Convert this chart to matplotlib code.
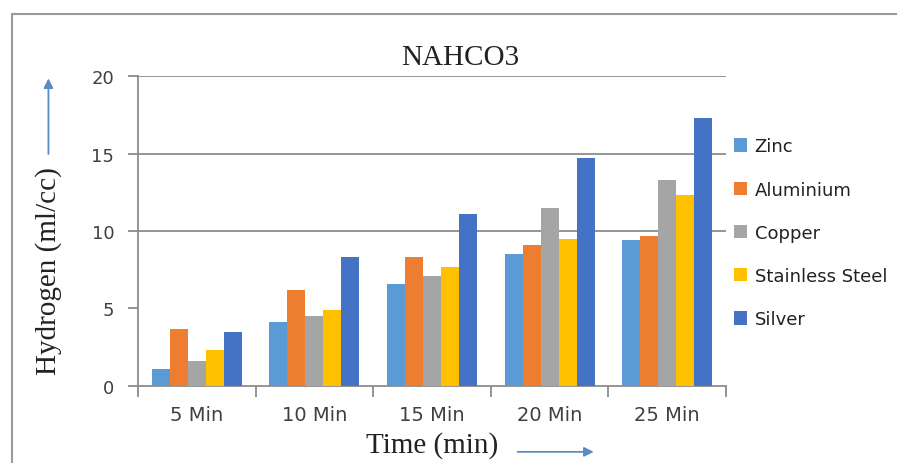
import matplotlib.pyplot as plt
import matplotlib.patches as mpatches
import numpy as np

times = ['5 Min', '10 Min', '15 Min', '20 Min', '25 Min']
zinc = [1.1, 4.1, 6.6, 8.5, 9.4]
aluminium = [3.7, 6.2, 8.3, 9.1, 9.7]
copper = [1.6, 4.5, 7.1, 11.5, 13.3]
stainless = [2.3, 4.9, 7.7, 9.5, 12.3]
silver = [3.5, 8.3, 11.1, 14.7, 17.3]

series = [('Zinc', zinc, '#5B9BD5'),
          ('Aluminium', aluminium, '#ED7D31'),
          ('Copper', copper, '#A5A5A5'),
          ('Stainless Steel', stainless, '#FFC000'),
          ('Silver', silver, '#4472C4')]

serif = 'Liberation Serif'
sans = 'DejaVu Sans'

fig = plt.figure(figsize=(8.97, 4.64), dpi=100)
ax = fig.add_axes([0.1538, 0.166, 0.6556, 0.668])

x = np.arange(len(times))
w = 0.153
for i, (name, vals, col) in enumerate(series):
    ax.bar(x + (i - 2) * w, vals, w, color=col, label=name, zorder=3)

ax.set_xlim(-0.5, len(times) - 0.5)
ax.set_ylim(0, 20)
ax.set_yticks([0, 5, 10, 15, 20])
ax.set_xticks(x)
ax.set_xticklabels(times)
ax.set_xticks(np.arange(-0.5, len(times)), minor=True)
ax.tick_params(axis='x', which='major', length=0, pad=14, labelsize=14, labelcolor='#404040')
ax.tick_params(axis='x', which='minor', length=8, color='#808080', width=1.2)
ax.tick_params(axis='y', length=7, color='#808080', width=1.2, labelsize=13, labelcolor='#404040', pad=10)
for t in ax.get_xticklabels() + ax.get_yticklabels():
    t.set_family(sans)

# gridlines (none shows at 5 in the original)
for g in [10, 15, 20]:
    ax.axhline(g, color='#8c8c8c', lw=1.3, zorder=1)

for s in ['top', 'right']:
    ax.spines[s].set_visible(False)
ax.spines['left'].set_color('#8c8c8c')
ax.spines['bottom'].set_color('#8c8c8c')
ax.spines['left'].set_linewidth(1.3)
ax.spines['bottom'].set_linewidth(1.3)

fig.text(0.513, 0.875, 'NAHCO3', ha='center', va='center', fontsize=21, family=serif, color='#222222')
fig.text(0.054, 0.415, 'Hydrogen (ml/cc)', rotation=90, ha='center', va='center',
         fontsize=21, family=serif, color='#222222')
fig.text(0.482, 0.024, 'Time (min)', ha='center', va='baseline', fontsize=21, family=serif, color='#222222')

arrow_col = '#5B8BC0'
fig.add_artist(mpatches.FancyArrowPatch((0.054, 0.66), (0.054, 0.835), transform=fig.transFigure,
                                        arrowstyle='-|>', mutation_scale=14, color=arrow_col, lw=1.3))
fig.add_artist(mpatches.FancyArrowPatch((0.574, 0.024), (0.665, 0.024), transform=fig.transFigure,
                                        arrowstyle='-|>', mutation_scale=14, color=arrow_col, lw=1.3))

# outer frame
fig.add_artist(mpatches.Rectangle((0.0134, -0.05), 1.1, 1.018, transform=fig.transFigure,
                                  fill=False, edgecolor='#9a9a9a', lw=1.5, clip_on=False))

ax.legend(loc='upper left', bbox_to_anchor=(0.8, 0.737), bbox_transform=fig.transFigure,
          frameon=False, handlelength=0.75, handleheight=0.75, handletextpad=0.4,
          labelspacing=1.4, prop={'family': sans, 'size': 13}, labelcolor='#222222')

fig.savefig('out.png', dpi=100)
